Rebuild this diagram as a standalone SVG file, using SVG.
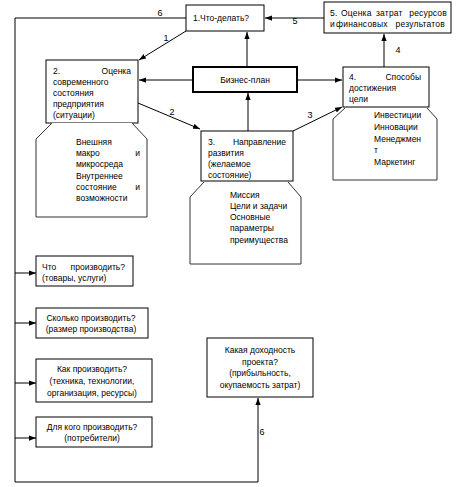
<svg xmlns="http://www.w3.org/2000/svg" width="459" height="487" viewBox="0 0 459 487">
<defs>
<marker id="ah" viewBox="0 0 8 6" refX="8" refY="3" markerWidth="7" markerHeight="5.5" markerUnits="userSpaceOnUse" orient="auto">
<path d="M0,0 L8,3 L0,6 Z" fill="#000"/>
</marker>
<style>
.box{fill:#fff;stroke:#000;stroke-width:1}
.bold{fill:#fff;stroke:#000;stroke-width:2}
.oct{fill:#fff;stroke:#333;stroke-width:1}
.ln{fill:none;stroke:#000;stroke-width:1}
.ar{fill:none;stroke:#000;stroke-width:1;marker-end:url(#ah)}
text{font-family:"Liberation Sans","Noto Sans",sans-serif;font-size:8.5px;fill:#000}
.c{text-anchor:middle}
.e{text-anchor:end}
.lbl{font-size:9px}
.sp{letter-spacing:0.2px}
</style>
</defs>
<rect width="459" height="487" fill="#fff"/>

<g id="connectors">
<line class="ar" x1="186" y1="31" x2="139" y2="60"/>
<line class="ar" x1="324" y1="18" x2="265" y2="18"/>
<polyline class="ar" points="186,18 15,18 15,482 258,482 258,398"/>
<line class="ar" x1="15" y1="273" x2="36" y2="273"/>
<line class="ar" x1="15" y1="323" x2="36" y2="323"/>
<line class="ar" x1="15" y1="383" x2="36" y2="383"/>
<line class="ar" x1="15" y1="438" x2="36" y2="438"/>
<line class="ar" x1="247" y1="67" x2="247" y2="32"/>
<line class="ar" x1="193" y1="80" x2="139" y2="80"/>
<line class="ar" x1="297" y1="80" x2="342" y2="80"/>
<line class="ar" x1="384" y1="67" x2="384" y2="34"/>
<line class="ar" x1="248" y1="131" x2="248" y2="93"/>
<line class="ar" x1="138" y1="103" x2="200" y2="129"/>
<line class="ar" x1="293" y1="131" x2="342" y2="107"/>
<text class="lbl c" x="160" y="16">6</text>
<text class="lbl c" x="166" y="41">1</text>
<text class="lbl c" x="295" y="24">5</text>
<text class="lbl c" x="398" y="53">4</text>
<text class="lbl c" x="172" y="115">2</text>
<text class="lbl c" x="310" y="118">3</text>
<text class="lbl c" x="262" y="435">6</text>
</g>

<g id="n1">
<rect class="box" x="186" y="5" width="78" height="26"/>
<text x="193" y="21">1.Что-делать?</text>
</g>

<g id="n5">
<rect class="box" x="324" y="2" width="127" height="31"/>
<text class="sp" x="330" y="16">5.</text>
<text class="sp" x="341" y="16">Оценка</text>
<text class="sp" x="376" y="16">затрат</text>
<text class="sp e" x="447" y="16">ресурсов</text>
<text class="sp" x="330" y="27">и</text>
<text class="sp" x="336" y="27">финансовых</text>
<text class="sp e" x="445" y="27">результатов</text>
</g>

<g id="nbp">
<rect class="bold" x="193" y="67" width="104" height="25"/>
<text class="c" x="245" y="83">Бизнес-план</text>
</g>

<g id="n2">
<rect class="box" x="46" y="60" width="92" height="63"/>
<text x="53" y="74">2.</text>
<text class="e" x="131" y="74">Оценка</text>
<text x="53" y="85">современного</text>
<text x="53" y="96">состояния</text>
<text x="53" y="107">предприятия</text>
<text x="53" y="118">(ситуации)</text>
</g>

<g id="n2d">
<polyline class="oct" points="52,123 36,139 36,217 147,217 147,139 132,123"/>
<text x="76" y="145">Внешняя</text>
<text x="76" y="156">макро</text>
<text class="e" x="140" y="156">и</text>
<text x="76" y="167">микросреда</text>
<text x="76" y="179">Внутреннее</text>
<text x="76" y="190">состояние</text>
<text class="e" x="140" y="190">и</text>
<text x="76" y="201">возможности</text>
</g>

<g id="n3">
<rect class="box" x="201" y="131" width="92" height="50"/>
<text x="208" y="145">3.</text>
<text class="e" x="286" y="145">Направление</text>
<text x="208" y="156">развития</text>
<text x="208" y="167">(желаемое</text>
<text x="208" y="178">состояние)</text>
</g>

<g id="n3d">
<polyline class="oct" points="204,182 190,197 190,264 301,264 301,197 288,182"/>
<text x="230" y="198">Миссия</text>
<text x="230" y="209">Цели и задачи</text>
<text x="230" y="220">Основные</text>
<text x="230" y="231">параметры</text>
<text x="230" y="243">преимущества</text>
</g>

<g id="n4">
<rect class="box" x="343" y="67" width="86" height="40"/>
<text x="349" y="80">4.</text>
<text class="e" x="421" y="80">Способы</text>
<text x="349" y="91">достижения</text>
<text x="349" y="102">цели</text>
</g>

<g id="n4d">
<polyline class="oct" points="345,108 333,119 333,180 437,180 437,119 427,108"/>
<text x="374" y="118">Инвестиции</text>
<text x="374" y="130">Инновации</text>
<text x="374" y="142">Менеджмен</text>
<text x="374" y="153">т</text>
<text x="374" y="165">Маркетинг</text>
</g>

<g id="q1">
<rect class="box" x="36" y="256" width="97" height="30"/>
<text x="42" y="270">Что</text>
<text class="e" x="125" y="270">производить?</text>
<text x="42" y="281">(товары, услуги)</text>
</g>

<g id="q2">
<rect class="box" x="36" y="308" width="112" height="30"/>
<text class="c" x="91" y="321">Сколько производить?</text>
<text class="c" x="91" y="332">(размер производства)</text>
</g>

<g id="q3">
<rect class="box" x="36" y="359" width="116" height="43"/>
<text class="c" x="92" y="372">Как производить?</text>
<text class="c" x="92" y="384">(техника, технологии,</text>
<text class="c" x="92" y="396">организация,  ресурсы)</text>
</g>

<g id="q4">
<rect class="box" x="36" y="417" width="116" height="30"/>
<text class="c" x="92" y="430">Для кого производить?</text>
<text class="c" x="92" y="441">(потребители)</text>
</g>

<g id="q5">
<rect class="box" x="207" y="338" width="106" height="59"/>
<text class="c" x="260" y="353">Какая доходность</text>
<text class="c" x="260" y="365">проекта?</text>
<text class="c" x="260" y="376">(прибыльность,</text>
<text class="c" x="260" y="388">окупаемость затрат)</text>
</g>
</svg>
